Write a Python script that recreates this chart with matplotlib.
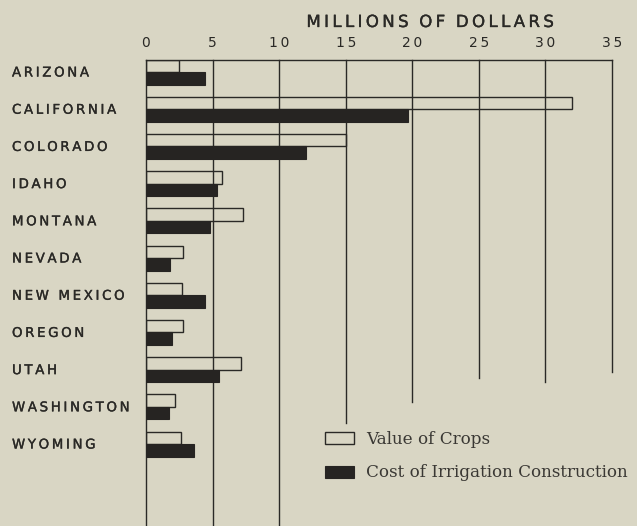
import matplotlib
matplotlib.use("Agg")
import matplotlib.pyplot as plt
import matplotlib.patheffects as pe
import matplotlib.transforms as mtransforms
import numpy as np

# Irrigation in the western states, millions of dollars
states = ["ARIZONA", "CALIFORNIA", "COLORADO", "IDAHO", "MONTANA", "NEVADA",
          "NEW MEXICO", "OREGON", "UTAH", "WASHINGTON", "WYOMING"]
value_of_crops = [2.5, 32.0, 15.0, 5.7, 7.3, 2.8, 2.7, 2.8, 7.1, 2.2, 2.6]
cost_of_irrigation = [4.4, 19.7, 12.0, 5.3, 4.8, 1.8, 4.4, 1.95, 5.5, 1.7, 3.6]
ticks = [0, 5, 10, 15, 20, 25, 30, 35]

BG = "#d9d6c4"
INK = "#2a2926"
FILL = "#262422"
THIN = "\u2009"
HEAVY = [pe.withStroke(linewidth=0.25, foreground=INK)]


def spaced(text):
    """Letter-spaced capitals, as in the printed chart."""
    return THIN.join(text)


W, H = 637, 526
fig = plt.figure(figsize=(W / 100, H / 100), dpi=100, facecolor=BG)

# plot area in pixels: left edge at 146, scale end (35) at 612, top rule at 60
left_px, right_px, top_px = 146, 612, 60
ax = fig.add_axes([left_px / W, 0, (right_px - left_px) / W, (H - top_px) / H])
ax.set_facecolor(BG)

row_px = 37.2            # vertical distance between states
bar_h = 12.5 / row_px    # each bar's thickness in row units
y_top = -12 / row_px
y_bottom = y_top + (H - top_px) / row_px

y = np.arange(len(states))
ax.set_xlim(0, 35)
ax.set_ylim(y_bottom, y_top)

# vertical rules, each stopping where it did on the printed page
rule_ends = [y_bottom, y_bottom, y_bottom,
             y_top + (423 - top_px) / row_px,
             y_top + (402 - top_px) / row_px,
             y_top + (378 - top_px) / row_px,
             y_top + (382 - top_px) / row_px,
             y_top + (372 - top_px) / row_px]
for t, end in zip(ticks, rule_ends):
    ax.plot([t, t], [y_top, end], color=INK, lw=1.0, clip_on=False, zorder=1)

crop_bars = ax.barh(y - bar_h / 2, value_of_crops, height=bar_h, facecolor="none",
                    edgecolor=INK, linewidth=1.0, zorder=3, label="Value of Crops")
cost_bars = ax.barh(y + bar_h / 2, cost_of_irrigation, height=bar_h, facecolor=FILL,
                    edgecolor=FILL, linewidth=0.8, zorder=3,
                    label="Cost of Irrigation Construction")

for s in ["right", "bottom", "left"]:
    ax.spines[s].set_visible(False)
ax.spines["top"].set_color(INK)
ax.spines["top"].set_linewidth(1.0)

ax.xaxis.tick_top()
ax.set_xticks(ticks)
ax.set_xticklabels([spaced(str(t)) for t in ticks], fontsize=10, color=INK)
ax.tick_params(axis="x", length=0, pad=7)
ax.set_yticks([])

# state names, left aligned at the page margin
label_tr = mtransforms.blended_transform_factory(fig.transFigure, ax.transData)
for yi, name in zip(y, states):
    ax.text(12 / W, yi + 1 / row_px, spaced(name), transform=label_tr,
            ha="left", va="center", fontsize=9.6, color=INK,
            family="DejaVu Sans", path_effects=HEAVY)

fig.text(430 / W, 1 - 22 / H, spaced("MILLIONS OF DOLLARS").replace(THIN + " " + THIN, "  "),
         ha="center", va="center", fontsize=12, color=INK, path_effects=HEAVY)

leg = ax.legend(handles=[crop_bars, cost_bars], loc="upper left",
                bbox_to_anchor=(325 / W, 1 - 431 / H), bbox_transform=fig.transFigure,
                frameon=False, prop={"family": "DejaVu Serif", "size": 12.1},
                handlelength=1.7, handleheight=0.74, handletextpad=0.75,
                labelspacing=0.98, borderpad=0, borderaxespad=0)
for t in leg.get_texts():
    t.set_color("#3a3834")

fig.savefig("out.png", dpi=100, facecolor=BG)
